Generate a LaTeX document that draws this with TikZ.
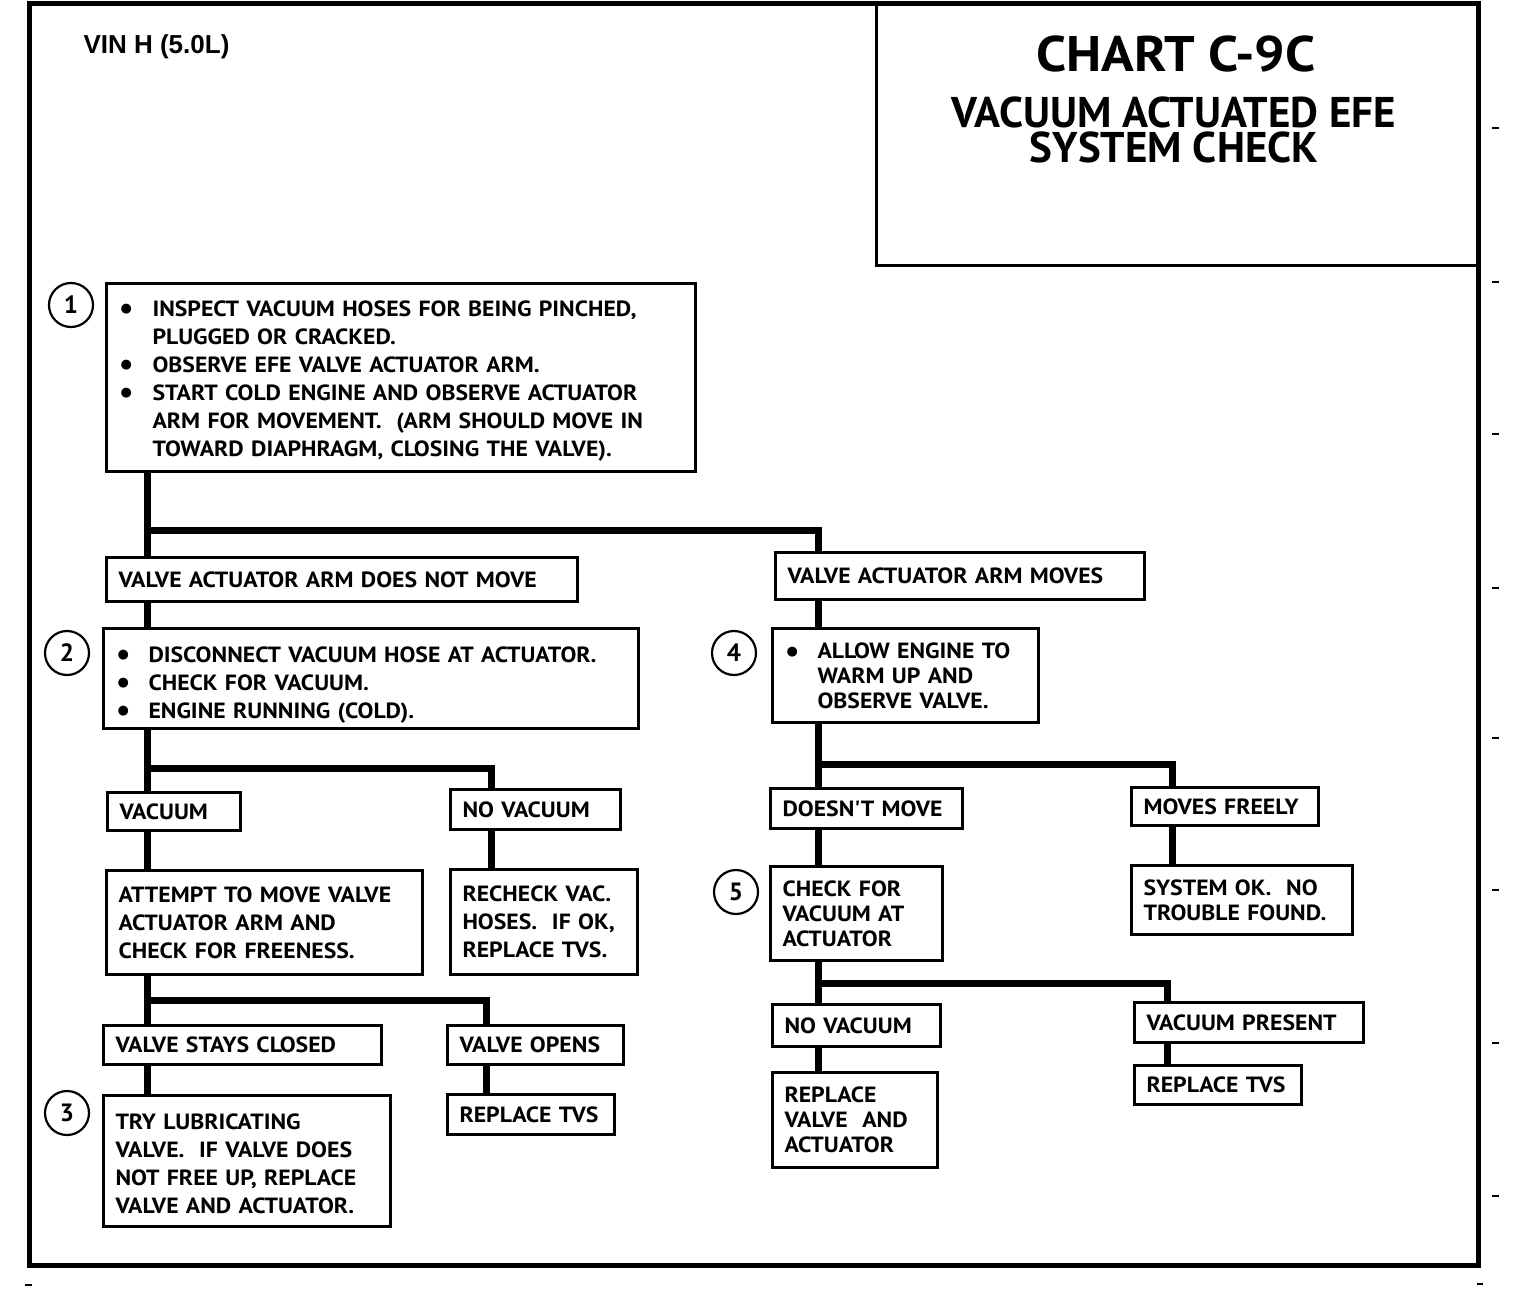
\documentclass[tikz,border=0pt]{standalone}
\usepackage{fontspec}
\setmainfont{PT Sans}
\newfontfamily\boxfont{PT Sans}[FakeStretch=1.08]
\newfontfamily\arialfont{Liberation Sans}
\newfontfamily\symfont{DejaVu Sans}
\usetikzlibrary{calc}
\newcommand\bul{\hspace*{2pt}\raisebox{3.5pt}{\symfont\fontsize{13}{13}\selectfont ●}}
\tikzset{
  box/.style={draw, line width=3pt, anchor=north west, inner xsep=12pt, inner ysep=0pt,
    align=left, font=\boxfont\bfseries\fontsize{22}{28}\selectfont},
  boxr/.style={box, font=\boxfont\bfseries\fontsize{22}{25}\selectfont},
  conn/.style={line width=7pt, line join=miter},
  numc/.style={draw, circle, line width=2.2pt, minimum size=44pt, inner sep=0pt,
    font=\bfseries\fontsize{25}{25}\selectfont},
  frame/.style={line width=5pt},
  tick/.style={line width=1.5pt},
}
\begin{document}
\begin{tikzpicture}[x=1pt,y=-1pt]
\useasboundingbox (0,0) rectangle (1520,1292);
% frame and title box
\draw[frame] (29,4) rectangle (1478,1265);
\draw[line width=3pt] (876,4) -- (876,265) -- (1478,265);
\node[font=\arialfont\bfseries\fontsize{26}{26}\selectfont, anchor=west] (vin) at (80,47) {VIN H (5.0L)};
\node[font=\boxfont\bfseries\fontsize{50}{50}\selectfont, inner sep=0pt] (title) at (1176,54) {CHART C-9C};
\node[font=\bfseries\fontsize{43}{35}\selectfont, inner sep=0pt, align=center] (sub) at (1174,130) {VACUUM ACTUATED EFE\\SYSTEM CHECK};
% margin ticks
\foreach \yy in {128,282,434,588,738,890,1043,1196} \draw[tick] (1492,\yy) -- (1499,\yy);
\draw[tick] (25,1285) -- (32,1285);
\draw[tick] (1477,1284) -- (1483,1284);

% left column
\node[box, minimum width=589pt, minimum height=188pt, text width=565pt] (b1) at (105,282) {%
\raisebox{-3pt}[\height][\depth]{\begin{tabular}{@{}p{34pt}@{}l@{}}
\bul & INSPECT VACUUM HOSES FOR BEING PINCHED,\\
 & PLUGGED OR CRACKED.\\
\bul & OBSERVE EFE VALVE ACTUATOR ARM.\\
\bul & START COLD ENGINE AND OBSERVE ACTUATOR\\
 & ARM FOR MOVEMENT.\ \ (ARM SHOULD MOVE IN\\
 & TOWARD DIAPHRAGM, CLOSING THE VALVE).
\end{tabular}}};
\node[numc] (c1) at (71,305) {1};

\node[box, minimum width=471pt, minimum height=44pt, text width=447pt] (n1) at (105,556) {VALVE ACTUATOR ARM DOES NOT MOVE};

\node[box, minimum width=535pt, minimum height=100pt, text width=511pt] (b2) at (102,627) {%
\raisebox{-6pt}[\height][\depth]{\begin{tabular}{@{}p{33pt}@{}l@{}}
\bul & DISCONNECT VACUUM HOSE AT ACTUATOR.\\
\bul & CHECK FOR VACUUM.\\
\bul & ENGINE RUNNING (COLD).
\end{tabular}}};
\node[numc] (c2) at (67,653) {2};

\node[box, minimum width=133pt, minimum height=38pt, text width=109pt] (vac) at (106,791) {VACUUM};
\node[box, minimum width=170pt, minimum height=40pt, text width=146pt] (nvac) at (449,788) {NO VACUUM};

\node[box, minimum width=316pt, minimum height=104pt, text width=292pt] (att) at (105,869) {ATTEMPT TO MOVE VALVE\\ACTUATOR ARM AND\\CHECK FOR FREENESS.};
\node[box, minimum width=187pt, minimum height=105pt, text width=163pt] (rech) at (449,868) {RECHECK VAC.\\HOSES.\ \ IF OK,\\REPLACE TVS.};

\node[box, minimum width=278pt, minimum height=39pt, text width=254pt] (vsc) at (102,1024) {VALVE STAYS CLOSED};
\node[box, minimum width=176pt, minimum height=39pt, text width=152pt] (vop) at (446,1024) {VALVE OPENS};

\node[box, minimum width=287pt, minimum height=131pt, text width=263pt] (try) at (102,1094) {%
\raisebox{-3pt}[\height][\depth]{\parbox{263pt}{TRY LUBRICATING\\VALVE.\ \ IF VALVE DOES\\NOT FREE UP, REPLACE\\VALVE AND ACTUATOR.}}};
\node[numc] (c3) at (67,1113) {3};
\node[box, minimum width=167pt, minimum height=40pt, text width=143pt] (rtv1) at (446,1093) {REPLACE TVS};

% right column
\node[box, minimum width=369pt, minimum height=47pt, text width=345pt] (m1) at (774,551) {VALVE ACTUATOR ARM MOVES};
\node[boxr, minimum width=266pt, minimum height=94pt, text width=242pt] (b4) at (771,627) {%
\raisebox{-3pt}[\height][\depth]{\begin{tabular}{@{}p{33pt}@{}l@{}}
\bul & ALLOW ENGINE TO\\
 & WARM UP AND\\
 & OBSERVE VALVE.
\end{tabular}}};
\node[numc] (c4) at (734,653) {4};

\node[box, minimum width=192pt, minimum height=40pt, text width=168pt] (dm) at (769,787) {DOESN'T MOVE};
\node[box, minimum width=187pt, minimum height=38pt, text width=163pt] (mf) at (1130,786) {MOVES FREELY};

\node[boxr, minimum width=172pt, minimum height=94pt, text width=148pt] (cf) at (769,865) {CHECK FOR\\VACUUM AT\\ACTUATOR};
\node[numc] (c5) at (736,892) {5};
\node[boxr, minimum width=221pt, minimum height=69pt, text width=197pt] (sok) at (1130,864) {SYSTEM OK.\ \ NO\\TROUBLE FOUND.};

\node[box, minimum width=168pt, minimum height=42pt, text width=144pt] (nv2) at (771,1003) {NO VACUUM};
\node[box, minimum width=229pt, minimum height=40pt, text width=205pt] (vp) at (1133,1001) {VACUUM PRESENT};

\node[boxr, minimum width=165pt, minimum height=95pt, text width=141pt] (rva) at (771,1071) {REPLACE\\VALVE\ \ AND\\ACTUATOR};
\node[box, minimum width=167pt, minimum height=39pt, text width=143pt] (rtv2) at (1133,1064) {REPLACE TVS};

% junctions
\coordinate (j1) at (147,530);  \coordinate (j1r) at (818,530);
\coordinate (j2) at (147,768);  \coordinate (j2r) at (491,768);
\coordinate (j3) at (147,1000); \coordinate (j3r) at (486,1000);
\coordinate (j4) at (818,764);  \coordinate (j4r) at (1172,764);
\coordinate (j5) at (818,983);  \coordinate (j5r) at (1167,983);

% connectors
\draw[conn] (b1.south -| j1) -- (n1.north -| j1);
\draw[conn] (j1) -- (j1r) -- (m1.north -| j1r);
\draw[conn] (n1.south -| j1) -- (b2.north -| j1);
\draw[conn] (b2.south -| j2) -- (vac.north -| j2);
\draw[conn] (j2) -- (j2r) -- (nvac.north -| j2r);
\draw[conn] (vac.south -| j2) -- (att.north -| j2);
\draw[conn] (nvac.south -| j2r) -- (rech.north -| j2r);
\draw[conn] (att.south -| j3) -- (vsc.north -| j3);
\draw[conn] (j3) -- (j3r) -- (vop.north -| j3r);
\draw[conn] (vsc.south -| j3) -- (try.north -| j3);
\draw[conn] (vop.south -| j3r) -- (rtv1.north -| j3r);
\draw[conn] (m1.south -| j4) -- (b4.north -| j4);
\draw[conn] (b4.south -| j4) -- (dm.north -| j4);
\draw[conn] (j4) -- (j4r) -- (mf.north -| j4r);
\draw[conn] (dm.south -| j4) -- (cf.north -| j4);
\draw[conn] (mf.south -| j4r) -- (sok.north -| j4r);
\draw[conn] (cf.south -| j5) -- (nv2.north -| j5);
\draw[conn] (j5) -- (j5r) -- (vp.north -| j5r);
\draw[conn] (nv2.south -| j5) -- (rva.north -| j5);
\draw[conn] (vp.south -| j5r) -- (rtv2.north -| j5r);
\end{tikzpicture}
\end{document}
